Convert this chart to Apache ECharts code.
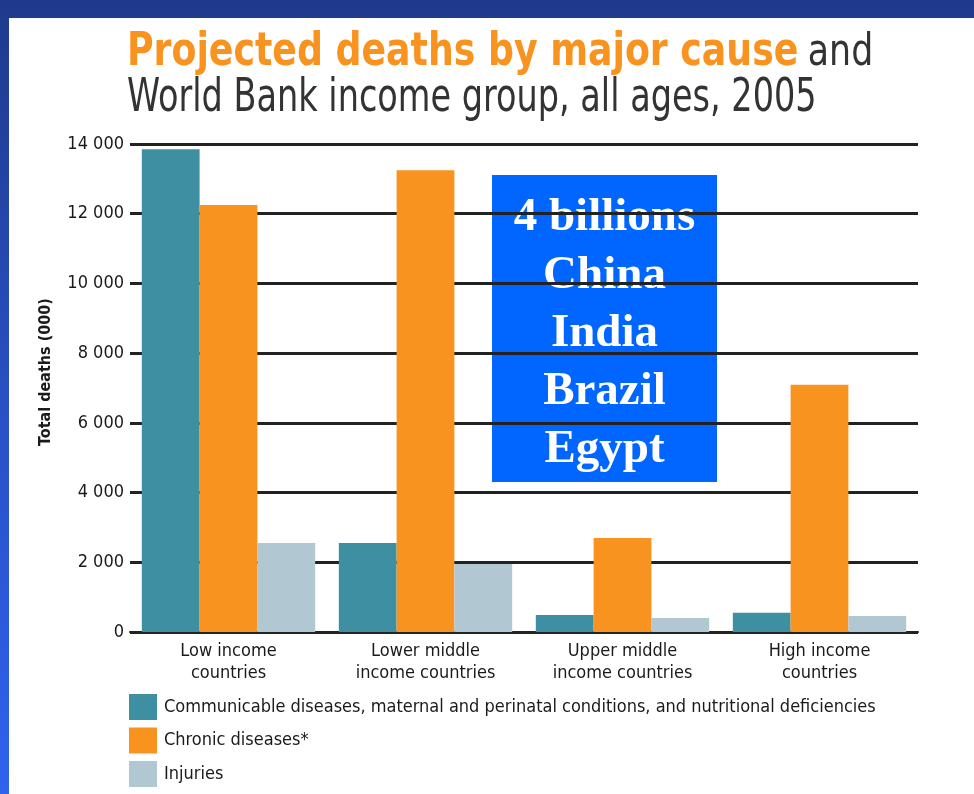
<!DOCTYPE html>
<html>
<head>
<meta charset="utf-8">
<script src="https://cdn.jsdelivr.net/npm/echarts@6/dist/echarts.min.js"></script>
<style>
  html, body { margin: 0; padding: 0; width: 974px; height: 794px; overflow: hidden; }
  body { background: linear-gradient(to bottom, #1f3a8c 0%, #2a52c8 55%, #2f62ee 100%); position: relative; }
  #panel { position: absolute; left: 9px; top: 18px; right: 0; bottom: 0; background: #ffffff; }
  #chart { position: absolute; left: 0; top: 0; width: 974px; height: 794px; }
</style>
</head>
<body>
<div id="panel"></div>
<div id="chart"></div>
<script>
const categories = ['Low income\ncountries', 'Lower middle\nincome countries', 'Upper middle\nincome countries', 'High income\ncountries'];
const seriesNames = ['Communicable diseases, maternal and perinatal conditions, and nutritional deficiencies', 'Chronic diseases*', 'Injuries'];
const communicable = [13850, 2550, 490, 550];
const chronic = [12250, 13250, 2700, 7090];
const injuries = [2550, 1950, 400, 460];
const yTicks = [0, 2000, 4000, 6000, 8000, 10000, 12000, 14000];
const titleBold = 'Projected deaths by major cause';
const titleRest = 'and';
const titleLine2 = 'World Bank income group, all ages, 2005';
const boxLines = ['4 billions', 'China', 'India', 'Brazil', 'Egypt'];
const yAxisName = 'Total deaths (000)';

const NARROW = "'Liberation Sans Narrow', 'DejaVu Sans Condensed', 'Liberation Sans', sans-serif";
const colors = ['#3f8fa3', '#f7931e', '#b1c7d2'];

const chart = echarts.init(document.getElementById('chart'), null, { renderer: 'canvas' });
const fmt = v => String(v).replace(/\B(?=(\d{3})+(?!\d))/g, ' ');

chart.setOption({
  backgroundColor: 'transparent',
  animation: false,
  color: colors,
  legend: {
    orient: 'vertical',
    left: 129, top: 694,
    itemWidth: 28, itemHeight: 26, itemGap: 7.5,
    icon: 'rect',
    selectedMode: false,
    padding: 0,
    textStyle: { fontFamily: NARROW, fontSize: 18, color: '#1a1a1a', padding: [0, 0, 0, 2] },
    data: seriesNames
  },
  grid: { left: 130, right: 56, top: 144, bottom: 162, containLabel: false },
  xAxis: {
    type: 'category',
    data: categories,
    axisLine: { show: true, lineStyle: { color: '#222222', width: 2 } },
    axisTick: { show: false },
    axisLabel: { margin: 8, fontFamily: NARROW, fontSize: 18, color: '#1a1a1a', lineHeight: 22, interval: 0 }
  },
  yAxis: {
    type: 'value',
    min: 0, max: 14000, interval: 2000,
    name: yAxisName,
    nameLocation: 'middle',
    nameGap: 76,
    nameRotate: 90,
    nameTextStyle: { fontFamily: NARROW, fontWeight: 'bold', fontSize: 16, color: '#1a1a1a', padding: [0, 0, 0, 32] },
    axisLine: { show: false },
    axisTick: { show: false },
    axisLabel: { margin: 6, fontFamily: NARROW, fontSize: 18, color: '#1a1a1a', formatter: fmt },
    splitLine: { show: true, lineStyle: { color: '#222222', width: 3 } }
  },
  series: [
    { name: seriesNames[0], type: 'bar', data: communicable, barGap: '0%', barCategoryGap: '12%' },
    { name: seriesNames[1], type: 'bar', data: chronic, barGap: '0%', barCategoryGap: '12%' },
    { name: seriesNames[2], type: 'bar', data: injuries, barGap: '0%', barCategoryGap: '12%' }
  ],
  graphic: [
    {
      type: 'text', x: 127, y: 28, scaleX: 0.858, z: 100,
      style: {
        text: '{a|' + titleBold + '}{b|' + titleRest + '}',
        verticalAlign: 'top', align: 'left',
        rich: {
          a: { fontFamily: NARROW, fontWeight: 'bold', fontSize: 47, fill: '#f7931e', lineHeight: 50 },
          b: { fontFamily: NARROW, fontWeight: 'normal', fontSize: 45, fill: '#333333', lineHeight: 50, padding: [0, 0, 0, 11] }
        }
      }
    },
    {
      type: 'text', x: 127, y: 76, scaleX: 0.81, z: 100,
      style: {
        text: titleLine2,
        verticalAlign: 'top', align: 'left',
        font: "normal 46px " + NARROW,
        fill: '#333333'
      }
    },
    {
      type: 'group', left: 492, top: 175, z: 100,
      children: [
        { type: 'rect', shape: { x: 0, y: 0, width: 225, height: 307 }, style: { fill: '#0066ff' } },
        {
          type: 'text', x: 112.5, y: 14,
          style: {
            text: boxLines.join('\n'),
            fill: '#ffffff',
            font: "bold 47px 'Liberation Serif', 'DejaVu Serif', serif",
            lineHeight: 58,
            align: 'center',
            verticalAlign: 'top'
          }
        }
      ]
    }
  ]
});
</script>
</body>
</html>
